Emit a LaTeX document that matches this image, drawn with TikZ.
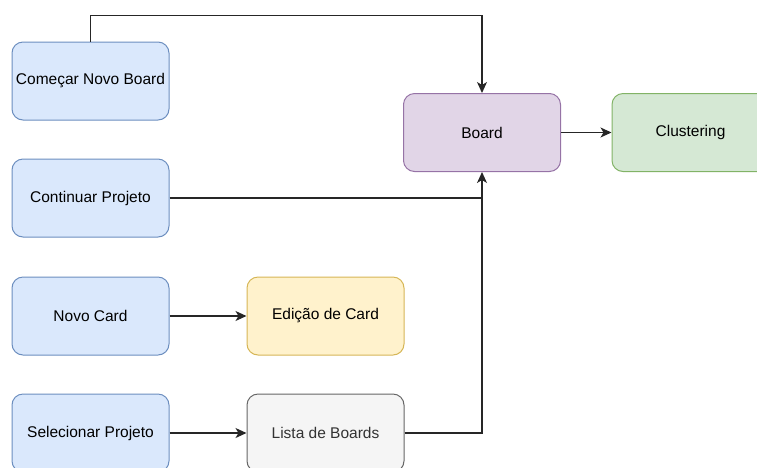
\documentclass[tikz,border=0pt]{standalone}
\usepackage{fontspec}
\setmainfont{Liberation Sans}
\usetikzlibrary{arrows.meta}
\definecolor{bfill}{HTML}{DAE8FC}\definecolor{bdraw}{HTML}{6C8EBF}
\definecolor{pfill}{HTML}{E1D5E7}\definecolor{pdraw}{HTML}{9673A6}
\definecolor{gfill}{HTML}{D5E8D4}\definecolor{gdraw}{HTML}{82B366}
\definecolor{yfill}{HTML}{FFF2CC}\definecolor{ydraw}{HTML}{D6B656}
\definecolor{sfill}{HTML}{F5F5F5}\definecolor{sdraw}{HTML}{666666}
\definecolor{stext}{HTML}{333333}
\tikzset{
  box/.style={rectangle, rounded corners=11pt, minimum width=157pt, minimum height=78pt,
    line width=1pt, inner sep=0pt, font=\fontsize{15.5}{18}\selectfont, anchor=center},
  bluebox/.style={box, fill=bfill, draw=bdraw},
  purplebox/.style={box, fill=pfill, draw=pdraw},
  greenbox/.style={box, fill=gfill, draw=gdraw},
  yellowbox/.style={box, fill=yfill, draw=ydraw},
  greybox/.style={box, fill=sfill, draw=sdraw, text=stext},
  conn/.style={line width=1.3pt, draw=black!85},
  arr/.style={conn, -{Stealth[length=11pt,width=10pt,inset=3pt]}},
}
\begin{document}
\begin{tikzpicture}[x=1pt,y=-1pt]
\useasboundingbox (0,0) rectangle (757,467);
\clip (0,0) rectangle (757,467);
\node[bluebox] (comecar) at (90.5,81) {Começar Novo Board};
\node[bluebox] (continuar) at (90.5,198) {Continuar Projeto};
\node[bluebox] (novo) at (90.5,316) {Novo Card};
\node[bluebox] (selecionar) at (90.5,433) {Selecionar Projeto};
\node[yellowbox] (edicao) at (325.5,316) {Edição de Card};
\node[greybox] (lista) at (325.5,433) {Lista de Boards};
\node[purplebox] (board) at (482,132.5) {Board};
\node[greenbox] (clustering) at (690.5,132.5) {Clustering};
\coordinate (topL) at (90.5,15.5);
\coordinate (topR) at (482,15.5);
\coordinate (join) at (482,198);
\coordinate (listaR) at (482,433);
\draw[arr] (comecar.north) -- (topL) -- (topR) -- (board.north);
\draw[conn] (continuar.east) -- (join);
\draw[arr] (lista.east) -- (listaR) -- (board.south);
\draw[arr] (novo.east) -- (edicao.west);
\draw[arr] (selecionar.east) -- (lista.west);
\draw[arr] (board.east) -- (clustering.west);
\end{tikzpicture}
\end{document}
